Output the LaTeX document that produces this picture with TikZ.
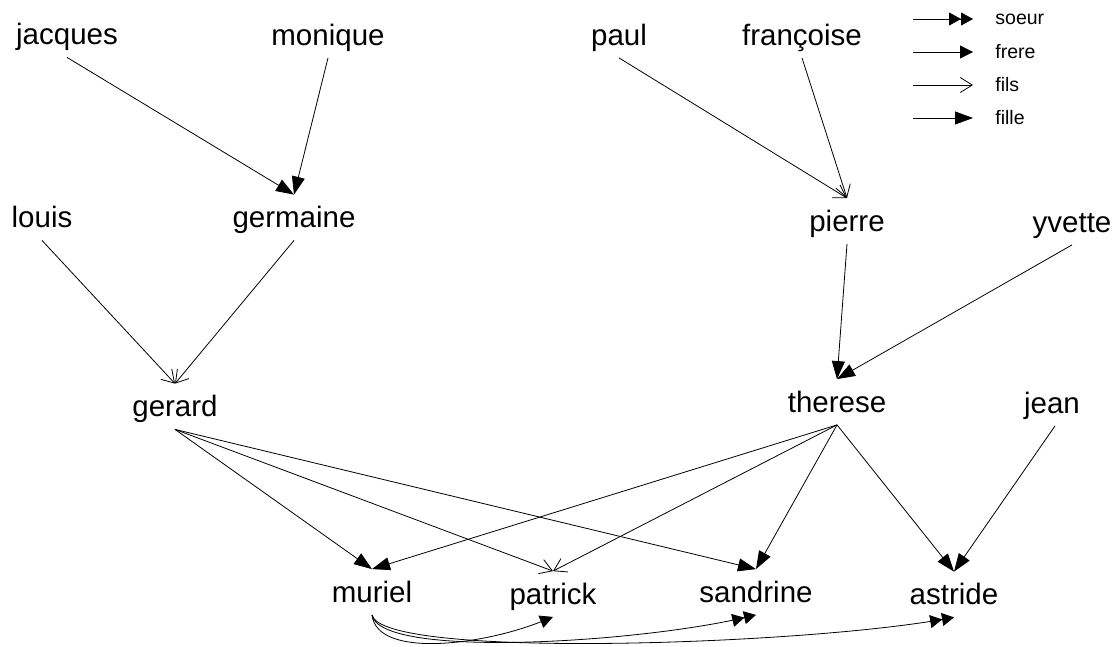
\documentclass[tikz,border=0pt]{standalone}
\usepackage{fontspec}
\setmainfont{Liberation Sans}
\usetikzlibrary{arrows.meta}
\begin{document}
\begin{tikzpicture}[x=1pt,y=-1pt, line width=0.8pt,
  person/.style={font=\fontsize{29.5}{34}\selectfont, inner sep=0pt, text height=32.5pt, text depth=12.5pt, anchor=base},
  legendlabel/.style={font=\fontsize{19.5}{23}\selectfont, anchor=west, inner sep=0pt},
  fille/.style={-{Triangle[length=18pt,width=13pt]}},
  frere/.style={-{Triangle[length=13pt,width=13pt]}},
  soeur/.style={-{Triangle[length=12pt,width=13pt]Triangle[length=12pt,width=13pt]}},
  fils/.style={-{Straight Barb[length=12pt,width=15pt]}}
]
\useasboundingbox (0,0) rectangle (1118,646);

% persons
\node[person] (jacques)   at (67,44.5)  {jacques};
\node[person] (monique)   at (328,45)   {monique};
\node[person] (paul)      at (619,45)   {paul};
\node[person] (francoise) at (802,45)   {françoise};
\node[person] (louis)     at (42,227.5) {louis};
\node[person] (germaine)  at (294,227.5){germaine};
\node[person] (pierre)    at (847,231)  {pierre};
\node[person] (yvette)    at (1072,232) {yvette};
\node[person] (gerard)    at (175,416.5){gerard};
\node[person] (therese)   at (837,412)  {therese};
\node[person] (jean)      at (1052,413) {jean};
\node[person] (muriel)    at (372,602)  {muriel};
\node[person] (patrick)   at (553,604)  {patrick};
\node[person] (sandrine)  at (756,602)  {sandrine};
\node[person] (astride)   at (954,604.5){astride};

% parent links
\draw[fille] (jacques.south) -- (germaine.north);
\draw[fille] (monique.south) -- (germaine.north);
\draw[fils] (louis.south) -- (gerard.north);
\draw[fils] (germaine.south) -- (gerard.north);
\draw[fils] (paul.south) -- (pierre.north);
\draw[fils] (francoise.south) -- (pierre.north);
\draw[fille] (pierre.south) -- (therese.north);
\draw[fille] (yvette.south) -- (therese.north);
\draw[fille] (gerard.south) -- (muriel.north);
\draw[fils] (gerard.south) -- (patrick.north);
\draw[fille] (gerard.south) -- (sandrine.north);
\draw[fille] (therese.south) -- (muriel.north);
\draw[fils] (therese.south) -- (patrick.north);
\draw[fille] (therese.south) -- (sandrine.north);
\draw[fille] (therese.south) -- (astride.north);
\draw[fille] ([xshift=3pt]jean.south) -- (astride.north);

% sibling links
\draw[frere] (muriel.south) .. controls +(5,44) and +(-70,28) .. (patrick.south);
\draw[soeur] (muriel.south) .. controls +(8,44) and +(-120,28) .. (sandrine.south);
\draw[soeur] (muriel.south) .. controls +(10,44) and +(-160,28) .. (astride.south);

% legend
\coordinate (ls1) at (913,19);  \coordinate (le1) at (973,19);
\coordinate (ls2) at (913,52);  \coordinate (le2) at (973,52);
\coordinate (ls3) at (913,85);  \coordinate (le3) at (973,85);
\coordinate (ls4) at (913,118); \coordinate (le4) at (973,118);
\draw[soeur] (ls1) -- (le1);
\draw[frere] (ls2) -- (le2);
\draw[fils]  (ls3) -- (le3);
\draw[fille] (ls4) -- (le4);
\node[legendlabel] (lsoeur) at (995,19)  {soeur};
\node[legendlabel] (lfrere) at (995,52)  {frere};
\node[legendlabel] (lfils)  at (995,85)  {fils};
\node[legendlabel] (lfille) at (995,118) {fille};
\end{tikzpicture}
\end{document}
